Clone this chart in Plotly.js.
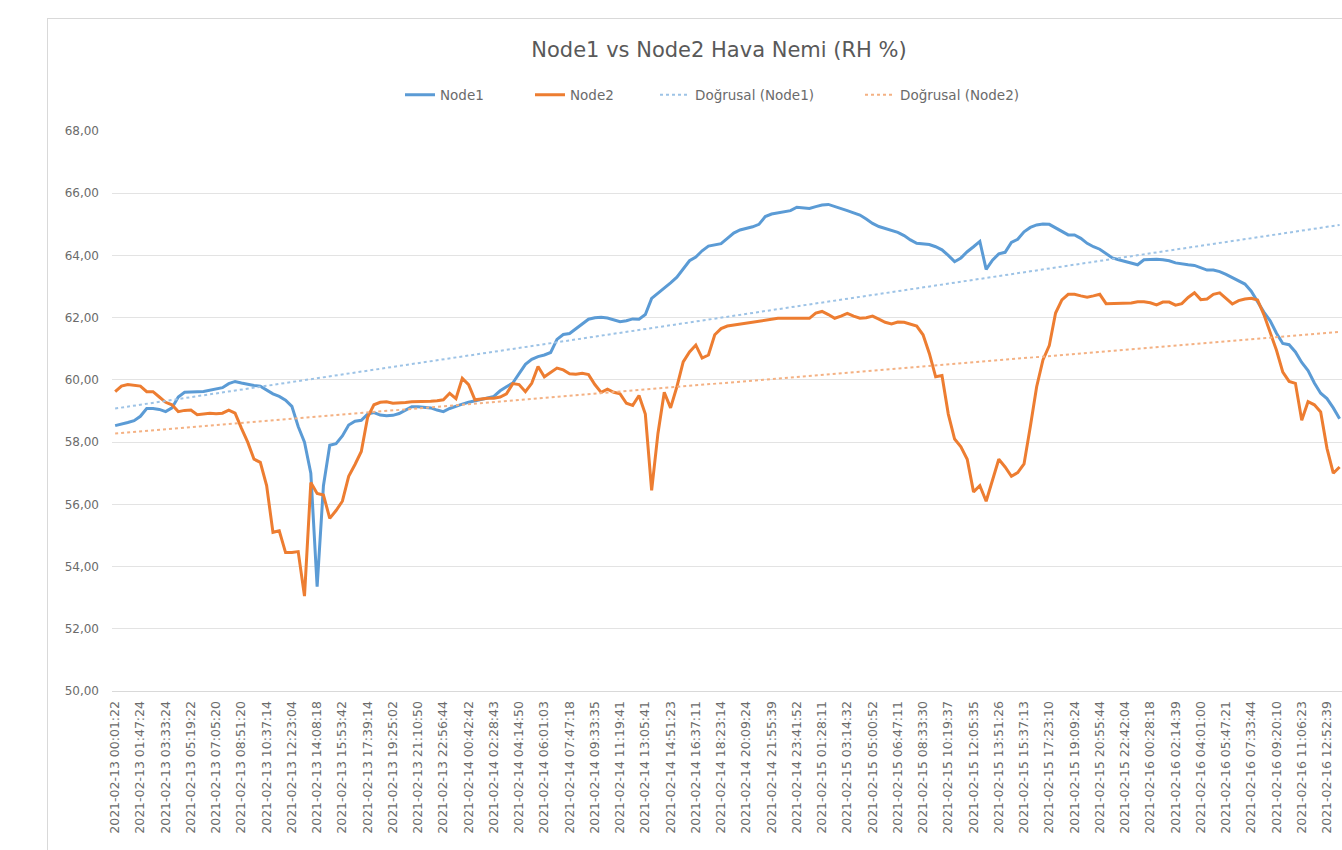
<!DOCTYPE html>
<html><head><meta charset="utf-8">
<script src="https://cdn.plot.ly/plotly-3.0.1.min.js"></script>
<style>
html,body{margin:0;padding:0;background:#fff;overflow:hidden;width:1342px;height:850px}
#frame{position:absolute;left:47px;top:18px;width:1344px;height:900px;border:1px solid #d9d9d9;box-sizing:border-box}
#chart{position:absolute;left:47px;top:18px;width:1344px;height:873px}
</style></head><body><div id="frame"></div><div id="chart"></div>
<script>
const tickLabels = [
"2021-02-13 00:01:22","2021-02-13 01:47:24","2021-02-13 03:33:24","2021-02-13 05:19:22","2021-02-13 07:05:20",
"2021-02-13 08:51:20","2021-02-13 10:37:14","2021-02-13 12:23:04","2021-02-13 14:08:18","2021-02-13 15:53:42",
"2021-02-13 17:39:14","2021-02-13 19:25:02","2021-02-13 21:10:50","2021-02-13 22:56:44","2021-02-14 00:42:42",
"2021-02-14 02:28:43","2021-02-14 04:14:50","2021-02-14 06:01:03","2021-02-14 07:47:18","2021-02-14 09:33:35",
"2021-02-14 11:19:41","2021-02-14 13:05:41","2021-02-14 14:51:23","2021-02-14 16:37:11","2021-02-14 18:23:14",
"2021-02-14 20:09:24","2021-02-14 21:55:39","2021-02-14 23:41:52","2021-02-15 01:28:11","2021-02-15 03:14:32",
"2021-02-15 05:00:52","2021-02-15 06:47:11","2021-02-15 08:33:30","2021-02-15 10:19:37","2021-02-15 12:05:35",
"2021-02-15 13:51:26","2021-02-15 15:37:13","2021-02-15 17:23:10","2021-02-15 19:09:24","2021-02-15 20:55:44",
"2021-02-15 22:42:04","2021-02-16 00:28:18","2021-02-16 02:14:39","2021-02-16 04:01:00","2021-02-16 05:47:21",
"2021-02-16 07:33:44","2021-02-16 09:20:10","2021-02-16 11:06:23","2021-02-16 12:52:39"
];
const samplesPerLabel = 4;

const node1 = [
58.53,58.57,58.63,58.69,58.83,59.08,59.08,59.05,58.98,59.10,
59.45,59.60,59.62,59.62,59.63,59.67,59.70,59.75,59.88,59.95,
59.90,59.85,59.82,59.80,59.68,59.55,59.47,59.35,59.15,58.50,
58.00,57.00,53.35,56.60,57.90,57.95,58.20,58.55,58.67,58.70,
58.90,58.95,58.87,58.85,58.86,58.92,59.03,59.14,59.14,59.12,
59.10,59.03,58.98,59.08,59.16,59.22,59.28,59.32,59.37,59.42,
59.47,59.65,59.78,59.90,60.20,60.50,60.66,60.75,60.80,60.88,
61.30,61.46,61.49,61.65,61.80,61.95,62.00,62.01,61.99,61.93,
61.87,61.90,61.96,61.95,62.10,62.62,62.78,62.95,63.12,63.30,
63.55,63.83,63.95,64.15,64.30,64.35,64.38,64.55,64.72,64.82,
64.87,64.92,65.00,65.25,65.33,65.37,65.41,65.44,65.55,65.54,
65.51,65.57,65.62,65.64,65.58,65.50,65.44,65.37,65.30,65.17,
65.03,64.93,64.86,64.79,64.74,64.64,64.50,64.39,64.37,64.35,
64.28,64.18,64.00,63.80,63.92,64.12,64.28,64.45,63.55,63.85,
64.05,64.10,64.42,64.52,64.76,64.90,64.98,65.01,65.00,64.89,
64.77,64.66,64.66,64.55,64.39,64.28,64.20,64.07,63.92,63.86,
63.80,63.74,63.70,63.86,63.88,63.88,63.86,63.83,63.76,63.72,
63.70,63.68,63.60,63.53,63.53,63.48,63.39,63.29,63.18,63.08,
62.85,62.50,62.18,61.90,61.50,61.17,61.13,60.90,60.56,60.30,
59.90,59.57,59.40,59.10,58.75
];

const node2 = [
59.62,59.80,59.85,59.83,59.80,59.62,59.62,59.45,59.28,59.20,
58.98,59.02,59.03,58.88,58.90,58.93,58.91,58.93,59.03,58.93,
58.45,58.00,57.45,57.35,56.60,55.10,55.15,54.45,54.45,54.48,
53.05,56.70,56.35,56.30,55.55,55.80,56.10,56.90,57.28,57.70,
58.80,59.20,59.28,59.30,59.25,59.25,59.27,59.30,59.30,59.30,
59.31,59.33,59.36,59.57,59.40,60.05,59.85,59.36,59.39,59.41,
59.41,59.45,59.55,59.88,59.85,59.62,59.89,60.43,60.10,60.25,
60.38,60.32,60.20,60.18,60.21,60.17,59.85,59.60,59.70,59.60,
59.55,59.25,59.18,59.50,58.90,56.45,58.28,59.60,59.10,59.78,
60.58,60.90,61.12,60.70,60.80,61.45,61.65,61.73,61.76,61.80,
61.84,61.87,61.90,61.93,61.95,61.98,61.98,61.98,61.98,61.98,
61.98,62.15,62.20,62.10,61.98,62.05,62.14,62.05,61.98,62.00,
62.05,61.95,61.85,61.80,61.86,61.85,61.80,61.73,61.45,60.85,
60.10,60.14,58.90,58.10,57.85,57.45,56.40,56.60,56.10,56.78,
57.45,57.20,56.90,57.02,57.30,58.50,59.78,60.64,61.10,62.15,
62.57,62.75,62.75,62.70,62.66,62.70,62.75,62.45,62.45,62.47,
62.46,62.47,62.51,62.51,62.48,62.41,62.50,62.50,62.40,62.45,
62.65,62.80,62.58,62.60,62.75,62.80,62.62,62.44,62.55,62.60,
62.62,62.57,62.10,61.55,60.95,60.25,59.95,59.89,58.70,59.30,
59.20,58.97,57.80,57.00,57.20
];

// linear trend lines (Doğrusal) read at the first and last sample
const trendNode1 = [59.08, 64.98];
const trendNode2 = [58.28, 61.54];

const yTicks = [50,52,54,56,58,60,62,64,66,68];

const xIdx = node1.map((_, i) => i);
const trendX = [0, node1.length - 1];
const tickPos = tickLabels.map((_, k) => k * samplesPerLabel);

const blue = '#5B9BD5', orange = '#ED7D31';
const font = "'DejaVu Sans', Verdana, sans-serif";
const txt = '#6b6b6b';

const traces = [
  {x: xIdx, y: node1, name: 'Node1', type: 'scatter', mode: 'lines',
   line: {color: blue, width: 3}, legendwidth: 85},
  {x: xIdx, y: node2, name: 'Node2', type: 'scatter', mode: 'lines',
   line: {color: orange, width: 3}, legendwidth: 80},
  {x: trendX, y: trendNode1, name: 'Doğrusal (Node1)', type: 'scatter', mode: 'lines',
   line: {color: '#9DC3E6', width: 2, dash: 'dot'}, legendwidth: 160},
  {x: trendX, y: trendNode2, name: 'Doğrusal (Node2)', type: 'scatter', mode: 'lines',
   line: {color: '#F4B183', width: 2, dash: 'dot'}, legendwidth: 160}
];

const layout = {
  width: 1344, height: 873,
  margin: {l: 65, r: 11, t: 113, b: 200},
  paper_bgcolor: 'rgba(0,0,0,0)', plot_bgcolor: '#fff',
  separators: ',.',
  font: {family: font, color: txt, size: 12},
  title: {text: 'Node1 vs Node2 Hava Nemi (RH %)', font: {family: font, size: 21, color: '#595959'},
          x: 0.5, xref: 'container', y: 1 - 32/873, yref: 'container', yanchor: 'middle', xanchor: 'center'},
  showlegend: true,
  legend: {orientation: 'h', x: (400 - 47)/1344, xref: 'container', xanchor: 'left',
           y: 1 - 77/873, yref: 'container', yanchor: 'middle',
           font: {family: font, size: 13.5, color: txt}, itemwidth: 30},
  xaxis: {range: [-0.5, 200.4], tickmode: 'array', tickvals: tickPos, ticktext: tickLabels,
          tickangle: -90, showgrid: false, zeroline: false, showline: true, linecolor: '#d9d9d9',
          ticks: '', ticklabelstandoff: 4, tickfont: {size: 12.5, color: txt, family: font}},
  yaxis: {range: [50, 68], tickmode: 'array', tickvals: yTicks, tickformat: '.2f',
          showgrid: true, gridcolor: '#e3e3e3', gridwidth: 1, zeroline: false, showline: false,
          ticks: '', ticklabelstandoff: 12, tickfont: {size: 12, color: txt, family: font}}
};

Plotly.newPlot('chart', traces, layout, {displayModeBar: false, staticPlot: true});
</script>
</body></html>
